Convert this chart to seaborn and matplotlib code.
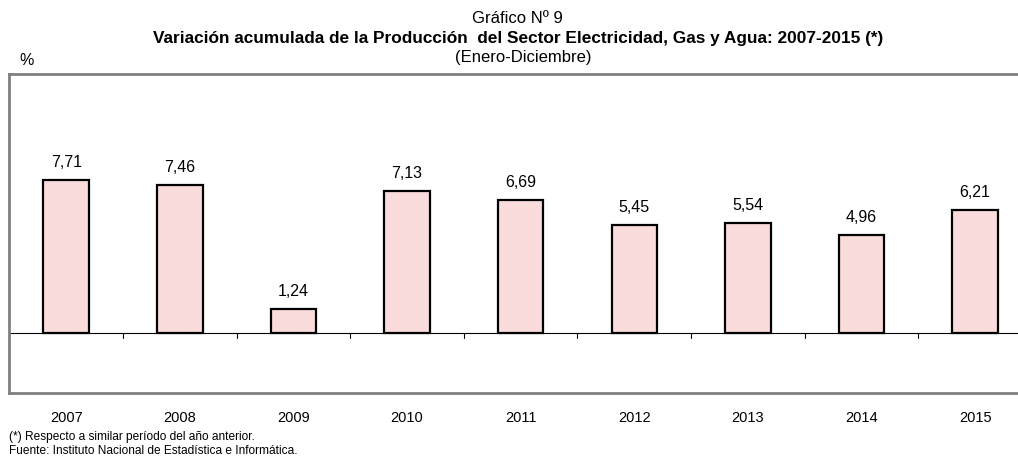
import matplotlib
matplotlib.use("Agg")
import matplotlib.pyplot as plt
import seaborn as sns
import pandas as pd

# Data
years = ["2007", "2008", "2009", "2010", "2011", "2012", "2013", "2014", "2015"]
values = [7.71, 7.46, 1.24, 7.13, 6.69, 5.45, 5.54, 4.96, 6.21]
value_labels = ["7,71", "7,46", "1,24", "7,13", "6,69", "5,45", "5,54", "4,96", "6,21"]

df = pd.DataFrame({"Año": years, "Variación": values})

sns.set_theme(style="white")
plt.rcParams['font.family'] = ['Liberation Sans', 'DejaVu Sans']
plt.rcParams['text.color'] = 'black'

fig = plt.figure(figsize=(10.18, 4.62), dpi=100)
ax = fig.add_axes([0.0092, 0.149, 1.0045, 0.690])

sns.barplot(data=df, x="Año", y="Variación", ax=ax, color="#fadcdc",
            edgecolor="black", linewidth=1.6, width=0.4, saturation=1)

ax.set_xlim(-0.5, len(years) - 0.5)
ax.set_ylim(-3, 13)

# zero line and small boundary ticks
ax.axhline(0, color="black", linewidth=0.8, zorder=1)
for b in range(1, len(years)):
    ax.plot([b - 0.5, b - 0.5], [0, -0.25], color="black", linewidth=0.8)

# value labels
for i, (v, lab) in enumerate(zip(values, value_labels)):
    ax.text(i, v + 0.5, lab, ha="center", va="bottom", fontsize=11.5, color="black")

for s in ax.spines.values():
    s.set_color("#808080")
    s.set_linewidth(2)

ax.set_yticks([])
ax.set_xlabel("")
ax.set_ylabel("")
ax.tick_params(axis="x", length=0, pad=13, labelsize=10.5, colors="black")

# titles
fig.text(0.508, 0.960, "Gráfico Nº 9", ha="center", va="center", fontsize=12)
fig.text(0.509, 0.916, "Variación acumulada de la Producción  del Sector Electricidad, Gas y Agua: 2007-2015 (*)",
         ha="center", va="center", fontsize=12.4, fontweight="bold")
fig.text(0.514, 0.875, "(Enero-Diciembre)", ha="center", va="center", fontsize=12)
fig.text(0.026, 0.870, "%", ha="center", va="center", fontsize=11.5)

# footnotes
fig.text(0.009, 0.054, "(*) Respecto a similar período del año anterior.", ha="left", va="center", fontsize=8.6)
fig.text(0.009, 0.024, "Fuente: Instituto Nacional de Estadística e Informática.", ha="left", va="center", fontsize=8.6)

fig.savefig("out.png", dpi=100)
